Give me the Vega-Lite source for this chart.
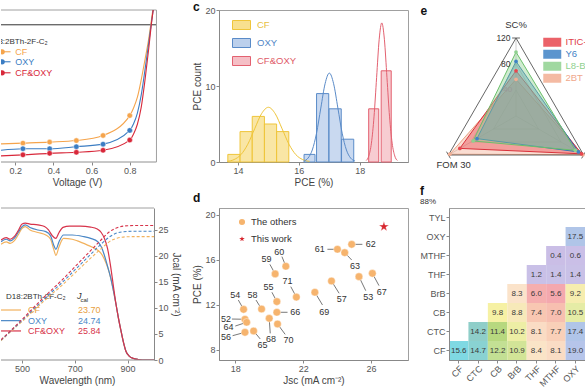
{
"$schema":"https://vega.github.io/schema/vega-lite/v6.json",
"padding":0,
"background":"white",
"config":{
 "font":"Liberation Sans",
 "view":{"stroke":"#a0a0a0","strokeWidth":1},
 "axis":{"labelFontSize":9,"titleFontSize":10,"labelColor":"#555","titleColor":"#444","titleFontWeight":"normal","domainColor":"#888","tickColor":"#888","grid":false,"tickSize":3,"labelPadding":1,"titlePadding":2},
 "legend":{"labelFontSize":9,"labelColor":"#555","titleFontWeight":"normal"},
 "title":{"fontSize":12,"fontWeight":"bold","anchor":"start","color":"#111","offset":2}
},
"datasets":{
 "jv":[
  {"s":"CF","v":0.125,"j":-23.35},{"s":"CF","v":0.24,"j":-23.2,"m":1},{"s":"CF","v":0.38,"j":-23.0,"m":1},{"s":"CF","v":0.52,"j":-22.7,"m":1},{"s":"CF","v":0.66,"j":-21.7,"m":1},{"s":"CF","v":0.8,"j":-17.8,"m":1},{"s":"CF","v":0.82,"j":-16.3},{"s":"CF","v":0.84,"j":-14.2},{"s":"CF","v":0.86,"j":-10.8},{"s":"CF","v":0.88,"j":-6.8},{"s":"CF","v":0.9,"j":-2.6},{"s":"CF","v":0.91,"j":0},{"s":"CF","v":0.925,"j":4},
  {"s":"OXY","v":0.125,"j":-24.6},{"s":"OXY","v":0.24,"j":-24.3,"m":1},{"s":"OXY","v":0.38,"j":-24.3,"m":1},{"s":"OXY","v":0.52,"j":-23.9,"m":1},{"s":"OXY","v":0.66,"j":-23.4,"m":1},{"s":"OXY","v":0.8,"j":-20.7,"m":1},{"s":"OXY","v":0.82,"j":-19.4},{"s":"OXY","v":0.84,"j":-17.3},{"s":"OXY","v":0.86,"j":-13.8},{"s":"OXY","v":0.88,"j":-8.8},{"s":"OXY","v":0.9,"j":-3.4},{"s":"OXY","v":0.912,"j":0},{"s":"OXY","v":0.925,"j":3.5},
  {"s":"CF&OXY","v":0.125,"j":-25.7},{"s":"CF&OXY","v":0.24,"j":-25.5,"m":1},{"s":"CF&OXY","v":0.38,"j":-25.2,"m":1},{"s":"CF&OXY","v":0.52,"j":-25.0,"m":1},{"s":"CF&OXY","v":0.66,"j":-24.6,"m":1},{"s":"CF&OXY","v":0.8,"j":-22.6,"m":1},{"s":"CF&OXY","v":0.82,"j":-21.4},{"s":"CF&OXY","v":0.84,"j":-19.5},{"s":"CF&OXY","v":0.86,"j":-16.2},{"s":"CF&OXY","v":0.88,"j":-10.8},{"s":"CF&OXY","v":0.9,"j":-4.5},{"s":"CF&OXY","v":0.913,"j":0},{"s":"CF&OXY","v":0.925,"j":3.5}
 ],
 "eqe":[
  {"s":"CF","w":420,"e":68.5},{"s":"CF","w":440,"e":70},{"s":"CF","w":455,"e":69},{"s":"CF","w":470,"e":70.5},{"s":"CF","w":485,"e":74},{"s":"CF","w":500,"e":78},{"s":"CF","w":512,"e":79},{"s":"CF","w":530,"e":77},{"s":"CF","w":560,"e":75.5},{"s":"CF","w":590,"e":74},{"s":"CF","w":608,"e":71.5},{"s":"CF","w":620,"e":65.5},{"s":"CF","w":628,"e":62},{"s":"CF","w":640,"e":67},{"s":"CF","w":657,"e":72},{"s":"CF","w":690,"e":71.5},{"s":"CF","w":710,"e":70.5},{"s":"CF","w":748,"e":68},{"s":"CF","w":787,"e":65},{"s":"CF","w":800,"e":63},{"s":"CF","w":811,"e":60},{"s":"CF","w":824,"e":55},{"s":"CF","w":836,"e":48.5},{"s":"CF","w":845,"e":42},{"s":"CF","w":856,"e":33},{"s":"CF","w":865,"e":25},{"s":"CF","w":874,"e":18},{"s":"CF","w":885,"e":10},{"s":"CF","w":894,"e":5},{"s":"CF","w":905,"e":2.5},{"s":"CF","w":920,"e":1},{"s":"CF","w":940,"e":0.3},{"s":"CF","w":970,"e":0},{"s":"CF","w":1000,"e":0},
  {"s":"OXY","w":420,"e":70},{"s":"OXY","w":440,"e":71.5},{"s":"OXY","w":455,"e":70.5},{"s":"OXY","w":470,"e":72},{"s":"OXY","w":485,"e":75.5},{"s":"OXY","w":500,"e":79},{"s":"OXY","w":512,"e":80},{"s":"OXY","w":530,"e":78.5},{"s":"OXY","w":560,"e":77},{"s":"OXY","w":590,"e":76},{"s":"OXY","w":608,"e":73.5},{"s":"OXY","w":620,"e":68},{"s":"OXY","w":628,"e":65.5},{"s":"OXY","w":640,"e":70},{"s":"OXY","w":657,"e":74},{"s":"OXY","w":690,"e":74},{"s":"OXY","w":734,"e":73},{"s":"OXY","w":760,"e":72},{"s":"OXY","w":787,"e":70},{"s":"OXY","w":800,"e":67},{"s":"OXY","w":811,"e":62.5},{"s":"OXY","w":824,"e":55.5},{"s":"OXY","w":836,"e":48.5},{"s":"OXY","w":845,"e":42},{"s":"OXY","w":856,"e":33},{"s":"OXY","w":865,"e":25},{"s":"OXY","w":874,"e":18},{"s":"OXY","w":885,"e":10},{"s":"OXY","w":894,"e":5},{"s":"OXY","w":905,"e":2.5},{"s":"OXY","w":920,"e":1},{"s":"OXY","w":940,"e":0.3},{"s":"OXY","w":970,"e":0},{"s":"OXY","w":1000,"e":0},
  {"s":"CF&OXY","w":420,"e":71},{"s":"CF&OXY","w":440,"e":72.5},{"s":"CF&OXY","w":455,"e":71.5},{"s":"CF&OXY","w":470,"e":73},{"s":"CF&OXY","w":485,"e":76.5},{"s":"CF&OXY","w":500,"e":80.5},{"s":"CF&OXY","w":512,"e":81},{"s":"CF&OXY","w":530,"e":80.5},{"s":"CF&OXY","w":560,"e":80},{"s":"CF&OXY","w":585,"e":79},{"s":"CF&OXY","w":600,"e":77},{"s":"CF&OXY","w":615,"e":73.5},{"s":"CF&OXY","w":628,"e":72},{"s":"CF&OXY","w":640,"e":75.5},{"s":"CF&OXY","w":655,"e":78.5},{"s":"CF&OXY","w":680,"e":79.3},{"s":"CF&OXY","w":720,"e":79.3},{"s":"CF&OXY","w":760,"e":78.7},{"s":"CF&OXY","w":785,"e":77.5},{"s":"CF&OXY","w":800,"e":75.5},{"s":"CF&OXY","w":812,"e":72},{"s":"CF&OXY","w":824,"e":66},{"s":"CF&OXY","w":835,"e":56},{"s":"CF&OXY","w":845,"e":45},{"s":"CF&OXY","w":856,"e":33},{"s":"CF&OXY","w":865,"e":25},{"s":"CF&OXY","w":874,"e":18},{"s":"CF&OXY","w":885,"e":10},{"s":"CF&OXY","w":894,"e":5},{"s":"CF&OXY","w":905,"e":2.5},{"s":"CF&OXY","w":920,"e":1},{"s":"CF&OXY","w":940,"e":0.3},{"s":"CF&OXY","w":970,"e":0},{"s":"CF&OXY","w":1000,"e":0}
 ],
 "jcal":[
  {"s":"CF","w":420,"j":3.7},{"s":"CF","w":460,"j":5.6},{"s":"CF","w":500,"j":7.4},{"s":"CF","w":550,"j":9.8},{"s":"CF","w":600,"j":12.1},{"s":"CF","w":650,"j":14.3},{"s":"CF","w":700,"j":16.7},{"s":"CF","w":750,"j":19.1},{"s":"CF","w":800,"j":21.4},{"s":"CF","w":830,"j":22.7},{"s":"CF","w":860,"j":23.4},{"s":"CF","w":900,"j":23.68},{"s":"CF","w":950,"j":23.7},{"s":"CF","w":1000,"j":23.7},
  {"s":"OXY","w":420,"j":3.8},{"s":"OXY","w":460,"j":5.7},{"s":"OXY","w":500,"j":7.6},{"s":"OXY","w":550,"j":10.1},{"s":"OXY","w":600,"j":12.5},{"s":"OXY","w":650,"j":14.8},{"s":"OXY","w":700,"j":17.3},{"s":"OXY","w":750,"j":19.8},{"s":"OXY","w":800,"j":22.3},{"s":"OXY","w":830,"j":23.6},{"s":"OXY","w":860,"j":24.4},{"s":"OXY","w":900,"j":24.7},{"s":"OXY","w":950,"j":24.74},{"s":"OXY","w":1000,"j":24.74},
  {"s":"CF&OXY","w":420,"j":3.9},{"s":"CF&OXY","w":460,"j":5.8},{"s":"CF&OXY","w":500,"j":7.8},{"s":"CF&OXY","w":550,"j":10.4},{"s":"CF&OXY","w":600,"j":12.9},{"s":"CF&OXY","w":650,"j":15.3},{"s":"CF&OXY","w":700,"j":17.9},{"s":"CF&OXY","w":750,"j":20.5},{"s":"CF&OXY","w":800,"j":23.1},{"s":"CF&OXY","w":830,"j":24.6},{"s":"CF&OXY","w":860,"j":25.4},{"s":"CF&OXY","w":900,"j":25.8},{"s":"CF&OXY","w":950,"j":25.84},{"s":"CF&OXY","w":1000,"j":25.84}
 ],
 "hist":[
  {"s":"CF","x0":13.67,"x1":14.07,"n":1},{"s":"CF","x0":14.07,"x1":14.47,"n":4},{"s":"CF","x0":14.47,"x1":14.87,"n":6},{"s":"CF","x0":14.87,"x1":15.27,"n":5},{"s":"CF","x0":15.27,"x1":15.67,"n":4},
  {"s":"OXY","x0":16.17,"x1":16.53,"n":1},{"s":"OXY","x0":16.58,"x1":16.98,"n":9},{"s":"OXY","x0":16.99,"x1":17.39,"n":7},{"s":"OXY","x0":17.4,"x1":17.8,"n":3},
  {"s":"CF&OXY","x0":18.29,"x1":18.62,"n":7},{"s":"CF&OXY","x0":18.7,"x1":19.03,"n":12}
 ],
 "gauss":[
  {"s":"CF","x":13.65,"y":0.08},{"s":"CF","x":13.875,"y":0.32},{"s":"CF","x":14.1,"y":0.97},{"s":"CF","x":14.325,"y":2.34},{"s":"CF","x":14.55,"y":4.37},{"s":"CF","x":14.775,"y":6.35},{"s":"CF","x":15.0,"y":7.2},{"s":"CF","x":15.225,"y":6.35},{"s":"CF","x":15.45,"y":4.37},{"s":"CF","x":15.675,"y":2.34},{"s":"CF","x":15.9,"y":0.97},{"s":"CF","x":16.125,"y":0.32},{"s":"CF","x":16.35,"y":0.08},
  {"s":"OXY","x":16.16,"y":0.13},{"s":"OXY","x":16.3,"y":0.51},{"s":"OXY","x":16.44,"y":1.58},{"s":"OXY","x":16.58,"y":3.8},{"s":"OXY","x":16.72,"y":7.1},{"s":"OXY","x":16.86,"y":10.3},{"s":"OXY","x":17.0,"y":11.7},{"s":"OXY","x":17.14,"y":10.3},{"s":"OXY","x":17.28,"y":7.1},{"s":"OXY","x":17.42,"y":3.8},{"s":"OXY","x":17.56,"y":1.58},{"s":"OXY","x":17.7,"y":0.51},{"s":"OXY","x":17.84,"y":0.13},
  {"s":"CF&OXY","x":18.21,"y":0.2},{"s":"CF&OXY","x":18.295,"y":0.8},{"s":"CF&OXY","x":18.38,"y":2.48},{"s":"CF&OXY","x":18.465,"y":5.94},{"s":"CF&OXY","x":18.55,"y":11.1},{"s":"CF&OXY","x":18.635,"y":16.15},{"s":"CF&OXY","x":18.72,"y":18.3},{"s":"CF&OXY","x":18.805,"y":16.15},{"s":"CF&OXY","x":18.89,"y":11.1},{"s":"CF&OXY","x":18.975,"y":5.94},{"s":"CF&OXY","x":19.06,"y":2.48},{"s":"CF&OXY","x":19.145,"y":0.8},{"s":"CF&OXY","x":19.23,"y":0.2}
 ],
 "lit":[
  {"ref":"54","jsc":18.49,"pce":11.61,"lx":18.0,"ly":12.89,"ex":18.18,"ey":12.44},
  {"ref":"58","jsc":19.55,"pce":11.64,"lx":19.02,"ly":12.89,"ex":19.22,"ey":12.44},
  {"ref":"55","jsc":20.45,"pce":12.3,"lx":19.96,"ly":13.57,"ex":20.16,"ey":13.13},
  {"ref":"71","jsc":21.6,"pce":12.7,"lx":21.08,"ly":14.13,"ex":21.27,"ey":13.63},
  {"ref":"59","jsc":20.35,"pce":14.76,"lx":19.84,"ly":16.06,"ex":20.04,"ey":15.61},
  {"ref":"60","jsc":20.98,"pce":15.44,"lx":20.59,"ly":16.74,"ex":20.75,"ey":16.3},
  {"ref":"52","jsc":18.57,"pce":10.73,"lx":17.45,"ly":10.78,"ex":17.8,"ey":10.75},
  {"ref":"64","jsc":18.67,"pce":10.46,"lx":17.6,"ly":10.0,"ex":18.0,"ey":10.13},
  {"ref":"56","jsc":18.57,"pce":9.57,"lx":17.45,"ly":9.19,"ex":17.84,"ey":9.27},
  {"ref":"65","jsc":19.08,"pce":9.69,"lx":19.61,"ly":8.44,"ex":19.47,"ey":8.98},
  {"ref":"68","jsc":20.0,"pce":10.81,"lx":20.1,"ly":8.98,"ex":20.06,"ey":9.48},
  {"ref":"66","jsc":20.45,"pce":11.35,"lx":21.53,"ly":11.35,"ex":21.08,"ey":11.35},
  {"ref":"70","jsc":20.49,"pce":10.31,"lx":21.14,"ly":8.89,"ex":20.94,"ey":9.39},
  {"ref":"69","jsc":22.69,"pce":13.13,"lx":23.24,"ly":11.41,"ex":23.14,"ey":12.0},
  {"ref":"57","jsc":23.67,"pce":14.13,"lx":24.27,"ly":12.53,"ex":24.12,"ey":13.04},
  {"ref":"61","jsc":24.02,"pce":16.95,"lx":22.98,"ly":16.95,"ex":23.43,"ey":16.95},
  {"ref":"63","jsc":24.45,"pce":16.65,"lx":25.06,"ly":15.47,"ex":24.86,"ey":16.0},
  {"ref":"62","jsc":24.86,"pce":17.39,"lx":25.98,"ly":17.39,"ex":25.49,"ey":17.39},
  {"ref":"53","jsc":25.29,"pce":14.52,"lx":25.84,"ly":12.74,"ex":25.69,"ey":13.27},
  {"ref":"67","jsc":26.08,"pce":14.81,"lx":26.63,"ly":13.19,"ex":26.47,"ey":13.72}
 ],
 "pts":[
  {"g":"The others","jsc":18.49,"pce":11.61},{"g":"The others","jsc":19.55,"pce":11.64},{"g":"The others","jsc":20.45,"pce":12.3},{"g":"The others","jsc":21.6,"pce":12.7},{"g":"The others","jsc":20.35,"pce":14.76},{"g":"The others","jsc":20.98,"pce":15.44},{"g":"The others","jsc":18.57,"pce":10.73},{"g":"The others","jsc":18.67,"pce":10.46},{"g":"The others","jsc":18.57,"pce":9.57},{"g":"The others","jsc":19.08,"pce":9.69},{"g":"The others","jsc":20.0,"pce":10.81},{"g":"The others","jsc":20.45,"pce":11.35},{"g":"The others","jsc":20.49,"pce":10.31},{"g":"The others","jsc":22.69,"pce":13.13},{"g":"The others","jsc":23.67,"pce":14.13},{"g":"The others","jsc":24.02,"pce":16.95},{"g":"The others","jsc":24.45,"pce":16.65},{"g":"The others","jsc":24.86,"pce":17.39},{"g":"The others","jsc":25.29,"pce":14.52},{"g":"The others","jsc":26.08,"pce":14.81},
  {"g":"This work","jsc":26.76,"pce":18.96}
 ],
 "grid":[
  {"g":"outer","o":0,"x":0,"y":1},{"g":"outer","o":1,"x":-0.866,"y":-0.5},{"g":"outer","o":2,"x":0.866,"y":-0.5},{"g":"outer","o":3,"x":0,"y":1},
  {"g":"t1","o":0,"x":-0.05,"y":1},{"g":"t1","o":1,"x":0.05,"y":1},
  {"g":"t2","o":0,"x":-0.891,"y":-0.457},{"g":"t2","o":1,"x":-0.841,"y":-0.543},
  {"g":"t3","o":0,"x":0.841,"y":-0.543},{"g":"t3","o":1,"x":0.891,"y":-0.457},
  {"g":"in2","o":0,"x":0,"y":0.667},{"g":"in2","o":1,"x":-0.577,"y":-0.333},{"g":"in2","o":2,"x":0.577,"y":-0.333},{"g":"in2","o":3,"x":0,"y":0.667},
  {"g":"in1","o":0,"x":0,"y":0.333},{"g":"in1","o":1,"x":-0.289,"y":-0.167},{"g":"in1","o":2,"x":0.289,"y":-0.167},{"g":"in1","o":3,"x":0,"y":0.333},
  {"g":"s1","o":0,"x":0,"y":0},{"g":"s1","o":1,"x":0,"y":1},
  {"g":"s2","o":0,"x":0,"y":0},{"g":"s2","o":1,"x":-0.866,"y":-0.5},
  {"g":"s3","o":0,"x":0,"y":0},{"g":"s3","o":1,"x":0.866,"y":-0.5}
 ],
 "radar":[
  {"s":"2BTh-2F-C₂","o":0,"x":0,"y":0.47},{"s":"2BTh-2F-C₂","o":1,"x":-0.849,"y":-0.49},{"s":"2BTh-2F-C₂","o":2,"x":0.857,"y":-0.495},{"s":"2BTh-2F-C₂","o":3,"x":0,"y":0.47},
  {"s":"ITIC-4F","o":0,"x":0,"y":0.58},{"s":"ITIC-4F","o":1,"x":-0.72,"y":-0.415},{"s":"ITIC-4F","o":2,"x":0.84,"y":-0.485},{"s":"ITIC-4F","o":3,"x":0,"y":0.58},
  {"s":"Y6","o":0,"x":0,"y":0.7},{"s":"Y6","o":1,"x":-0.5,"y":-0.29},{"s":"Y6","o":2,"x":0.8,"y":-0.46},{"s":"Y6","o":3,"x":0,"y":0.7},
  {"s":"L8-BO","o":0,"x":0,"y":0.82},{"s":"L8-BO","o":1,"x":-0.55,"y":-0.32},{"s":"L8-BO","o":2,"x":0.76,"y":-0.44},{"s":"L8-BO","o":3,"x":0,"y":0.82}
 ],
 "heat":[
  {"r":"CF","c":"CF","v":15.6},{"r":"CF","c":"CTC","v":14.7},{"r":"CF","c":"CB","v":12.2},{"r":"CF","c":"BrB","v":10.9},{"r":"CF","c":"THF","v":8.4},{"r":"CF","c":"MTHF","v":8.1},{"r":"CF","c":"OXY","v":19.0},
  {"r":"CTC","c":"CTC","v":14.2},{"r":"CTC","c":"CB","v":11.4},{"r":"CTC","c":"BrB","v":10.2},{"r":"CTC","c":"THF","v":8.1},{"r":"CTC","c":"MTHF","v":7.7},{"r":"CTC","c":"OXY","v":17.4},
  {"r":"CB","c":"CB","v":9.8},{"r":"CB","c":"BrB","v":8.8},{"r":"CB","c":"THF","v":7.4},{"r":"CB","c":"MTHF","v":7.0},{"r":"CB","c":"OXY","v":10.5},
  {"r":"BrB","c":"BrB","v":8.3},{"r":"BrB","c":"THF","v":6.0},{"r":"BrB","c":"MTHF","v":5.6},{"r":"BrB","c":"OXY","v":9.2},
  {"r":"THF","c":"THF","v":1.2},{"r":"THF","c":"MTHF","v":1.4},{"r":"THF","c":"OXY","v":1.4},
  {"r":"MTHF","c":"MTHF","v":0.4},{"r":"MTHF","c":"OXY","v":0.6},
  {"r":"OXY","c":"OXY","v":17.5}
 ]
},
"columns":3,
"spacing":{"row":38,"column":41},
"bounds":"flush",
"resolve":{"scale":{"color":"independent","fill":"independent","stroke":"independent","shape":"independent"},"legend":{"color":"independent","fill":"independent","stroke":"independent","shape":"independent"}},
"concat":[
  {"width":177,"height":152,
   "view":{"stroke":null},
   "layer":[
    {"data":{"values":[{}]},"mark":{"type":"rule","color":"#333","strokeWidth":1},"encoding":{"x":{"datum":0.125,"type":"quantitative","scale":{"domain":[0.125,1.0529],"nice":false,"zero":false},"axis":{"values":[0.2,0.4,0.6,0.8],"format":".1f","title":"Voltage (V)","domain":false,"titleX":76,"titleAnchor":"middle"}},"x2":{"datum":0.94},"y":{"datum":0,"type":"quantitative","scale":{"domain":[-26.9,2.9],"nice":false,"zero":false},"axis":null}}},
    {"data":{"values":[{}]},"mark":{"type":"rule","color":"#a0a0a0","strokeWidth":1},"encoding":{"x":{"datum":0.125},"x2":{"datum":0.94},"y":{"datum":2.9}}},
    {"data":{"values":[{}]},"mark":{"type":"rule","color":"#909090","strokeWidth":1},"encoding":{"x":{"datum":0.125},"x2":{"datum":0.94},"y":{"datum":-26.9}}},
    {"data":{"values":[{}]},"mark":{"type":"rule","color":"#a0a0a0","strokeWidth":1},"encoding":{"x":{"datum":0.94},"y":{"datum":-26.9},"y2":{"datum":2.9}}},
    {"data":{"name":"jv"},"mark":{"type":"line","interpolate":"monotone","strokeWidth":1.1,"clip":true},"encoding":{"x":{"field":"v","type":"quantitative"},"y":{"field":"j","type":"quantitative"},"color":{"field":"s","type":"nominal","scale":{"domain":["CF","OXY","CF&OXY"],"range":["#f5a44c","#3b7dc3","#d8283a"]},"legend":null}}},
    {"data":{"name":"jv"},"transform":[{"filter":"datum.m"}],"mark":{"type":"point","filled":true,"size":30,"opacity":1,"stroke":"#ffffff","strokeWidth":0.5,"clip":true},"encoding":{"x":{"field":"v","type":"quantitative"},"y":{"field":"j","type":"quantitative"},"color":{"field":"s","type":"nominal","legend":null}}},
    {"data":{"values":[{}]},"mark":{"type":"text","align":"right","baseline":"middle","fontSize":8,"color":"#333","clip":true},"encoding":{"x":{"datum":0.37},"y":{"datum":-3.33},"text":{"value":"D18:2BTh-2F-C₂"}}},
    {"data":{"values":[{}]},"mark":{"type":"rule","color":"#f5a44c","strokeWidth":1.1,"clip":true},"encoding":{"x":{"datum":0.09},"x2":{"datum":0.175},"y":{"datum":-5.29}}},
    {"data":{"values":[{}]},"mark":{"type":"rule","color":"#3b7dc3","strokeWidth":1.1,"clip":true},"encoding":{"x":{"datum":0.09},"x2":{"datum":0.175},"y":{"datum":-7.25}}},
    {"data":{"values":[{}]},"mark":{"type":"rule","color":"#d8283a","strokeWidth":1.1,"clip":true},"encoding":{"x":{"datum":0.09},"x2":{"datum":0.175},"y":{"datum":-9.41}}},
    {"data":{"values":[{}]},"mark":{"type":"point","filled":true,"size":28,"opacity":1,"color":"#f5a44c","clip":true},"encoding":{"x":{"datum":0.131},"y":{"datum":-5.29}}},
    {"data":{"values":[{}]},"mark":{"type":"point","filled":true,"size":28,"opacity":1,"color":"#3b7dc3","clip":true},"encoding":{"x":{"datum":0.131},"y":{"datum":-7.25}}},
    {"data":{"values":[{}]},"mark":{"type":"point","filled":true,"size":28,"opacity":1,"color":"#d8283a","clip":true},"encoding":{"x":{"datum":0.131},"y":{"datum":-9.41}}},
    {"data":{"values":[{}]},"mark":{"type":"text","align":"left","baseline":"middle","fontSize":9,"color":"#f5a44c"},"encoding":{"x":{"datum":0.2},"y":{"datum":-5.29},"text":{"value":"CF"}}},
    {"data":{"values":[{}]},"mark":{"type":"text","align":"left","baseline":"middle","fontSize":9,"color":"#3b7dc3"},"encoding":{"x":{"datum":0.2},"y":{"datum":-7.25},"text":{"value":"OXY"}}},
    {"data":{"values":[{}]},"mark":{"type":"text","align":"left","baseline":"middle","fontSize":9,"color":"#d8283a"},"encoding":{"x":{"datum":0.2},"y":{"datum":-9.41},"text":{"value":"CF&OXY"}}}
   ]
  },
  {"width":189,"height":152,
   "title":{"text":"c","offset":-8},
   "layer":[
    {"data":{"name":"hist"},"mark":{"type":"bar","strokeWidth":1,"fillOpacity":0.8},"encoding":{"x":{"field":"x0","type":"quantitative","scale":{"domain":[13.38,19.58],"nice":false,"zero":false},"axis":{"values":[14,15,16,17,18,19],"title":"PCE (%)"}},"x2":{"field":"x1"},"y":{"field":"n","type":"quantitative","scale":{"domain":[0,20],"nice":false},"axis":{"values":[0,5,10,15,20],"title":"PCE count"}},"y2":{"datum":0},
      "fill":{"field":"s","type":"nominal","scale":{"domain":["CF","OXY","CF&OXY"],"range":["#f8e08e","#bcd0ec","#f5bfc6"]},"legend":{"orient":"none","legendX":17.5,"legendY":10,"title":null,"symbolType":"M-2,-1H2V1H-2Z","symbolSize":81,"symbolStrokeWidth":1,"labelOffset":10.5,"rowPadding":4,"padding":0,"labelFontSize":9.5,"encode":{"labels":{"update":{"fill":{"signal":"datum.value==='CF'?'#e8c040':datum.value==='OXY'?'#4f86c6':'#e05a68'"}}}}}},
      "stroke":{"field":"s","type":"nominal","scale":{"domain":["CF","OXY","CF&OXY"],"range":["#efc53a","#5a8bc8","#e36170"]},"legend":{"orient":"none","legendX":17.5,"legendY":10,"title":null,"symbolType":"M-2,-1H2V1H-2Z","symbolSize":81,"symbolStrokeWidth":1,"labelOffset":10.5,"rowPadding":4,"padding":0,"labelFontSize":9.5,"encode":{"labels":{"update":{"fill":{"signal":"datum.value==='CF'?'#e8c040':datum.value==='OXY'?'#4f86c6':'#e05a68'"}}}}}}}},
    {"data":{"name":"gauss"},"mark":{"type":"line","interpolate":"monotone","strokeWidth":1},"encoding":{"x":{"field":"x","type":"quantitative"},"y":{"field":"y","type":"quantitative"},"stroke":{"field":"s","type":"nominal","legend":null}}}
   ]
  },
  {"width":136,"height":160,
   "view":{"stroke":null},
   "title":{"text":"e","offset":-8,"dx":-16},
   "layer":[
    {"data":{"name":"grid"},"transform":[{"filter":"datum.g==='in1'||datum.g==='in2'||datum.g==='s1'||datum.g==='s2'||datum.g==='s3'"}],"mark":{"type":"line","strokeWidth":0.6,"color":"#b0b0b0"},"encoding":{"x":{"field":"x","type":"quantitative","scale":{"domain":[-0.859,0.884],"nice":false,"zero":false},"axis":null},"y":{"field":"y","type":"quantitative","scale":{"domain":[-0.692,1.359],"nice":false,"zero":false},"axis":null},"detail":{"field":"g","type":"nominal"},"order":{"field":"o","type":"quantitative"}}},
    {"data":{"name":"radar"},"mark":{"type":"line","strokeWidth":1,"fillOpacity":0.42},"encoding":{"x":{"field":"x","type":"quantitative"},"y":{"field":"y","type":"quantitative"},"order":{"field":"o","type":"quantitative"},
      "fill":{"field":"s","type":"nominal","scale":{"domain":["ITIC-4F","Y6","L8-BO","2BTh-2F-C₂"],"range":["#e8474f","#3f83c6","#8fd18f","#f2ae93"]},"legend":{"orient":"none","legendX":98.5,"legendY":27.5,"title":null,"symbolType":"M-2,-1H2V1H-2Z","symbolSize":81,"symbolStrokeWidth":0,"labelOffset":8.5,"rowPadding":1,"padding":0,"labelFontSize":9.5,"labelLimit":22,"encode":{"symbols":{"update":{"fillOpacity":{"value":0.85},"strokeWidth":{"value":0}}},"labels":{"update":{"ellipsis":{"value":"\u200b"},"fill":{"signal":"datum.value==='ITIC-4F'?'#e0404a':datum.value==='Y6'?'#3f83c6':datum.value==='L8-BO'?'#8fd18f':'#f0a88c'"}}}}}},
      "stroke":{"field":"s","type":"nominal","scale":{"domain":["ITIC-4F","Y6","L8-BO","2BTh-2F-C₂"],"range":["#d9303a","#2f73b6","#6cbf6c","#e8a080"]},"legend":{"orient":"none","legendX":98.5,"legendY":27.5,"title":null,"symbolType":"M-2,-1H2V1H-2Z","symbolSize":81,"symbolStrokeWidth":0,"labelOffset":8.5,"rowPadding":1,"padding":0,"labelFontSize":9.5,"labelLimit":22,"encode":{"symbols":{"update":{"fillOpacity":{"value":0.85},"strokeWidth":{"value":0}}},"labels":{"update":{"ellipsis":{"value":"\u200b"},"fill":{"signal":"datum.value==='ITIC-4F'?'#e0404a':datum.value==='Y6'?'#3f83c6':datum.value==='L8-BO'?'#8fd18f':'#f0a88c'"}}}}}}}},
    {"data":{"name":"grid"},"transform":[{"filter":"datum.g==='outer'||datum.g==='t1'||datum.g==='t2'||datum.g==='t3'"}],"mark":{"type":"line","strokeWidth":0.9,"color":"#555"},"encoding":{"x":{"field":"x","type":"quantitative"},"y":{"field":"y","type":"quantitative"},"detail":{"field":"g","type":"nominal"},"order":{"field":"o","type":"quantitative"}}},
    {"data":{"name":"radar"},"transform":[{"filter":"datum.o<3"}],"mark":{"type":"point","filled":true,"size":14,"opacity":1},"encoding":{"x":{"field":"x","type":"quantitative"},"y":{"field":"y","type":"quantitative"},"fill":{"field":"s","type":"nominal","legend":null}}},
    {"data":{"values":[{}]},"mark":{"type":"text","align":"center","baseline":"middle","fontSize":9.5,"color":"#333"},"encoding":{"x":{"datum":0},"y":{"datum":1.17},"text":{"value":"SC%"}}},
    {"data":{"values":[{}]},"mark":{"type":"text","align":"right","baseline":"middle","fontSize":8.5,"color":"#333"},"encoding":{"x":{"datum":-0.07},"y":{"datum":1.0},"text":{"value":"120"}}},
    {"data":{"values":[{}]},"mark":{"type":"text","align":"right","baseline":"middle","fontSize":8.5,"color":"#333"},"encoding":{"x":{"datum":-0.07},"y":{"datum":0.667},"text":{"value":"80"}}},
    {"data":{"values":[{}]},"mark":{"type":"text","align":"right","baseline":"middle","fontSize":8,"color":"#999"},"encoding":{"x":{"datum":-0.05},"y":{"datum":0.333},"text":{"value":"40"}}},
    {"data":{"values":[{}]},"mark":{"type":"text","align":"left","baseline":"middle","fontSize":9.5,"color":"#333"},"encoding":{"x":{"datum":-1.02},"y":{"datum":-0.63},"text":{"value":"FOM 30"}}}
   ]
  },
  {"width":177,"height":152,
   "view":{"stroke":null},
   "layer":[
    {"layer":[
     {"data":{"name":"eqe"},"mark":{"type":"line","interpolate":"monotone","strokeWidth":1.2,"clip":true},"encoding":{"x":{"field":"w","type":"quantitative","scale":{"domain":[420,1091],"nice":false,"zero":false},"axis":{"values":[500,600,700,800,900,1000],"labelExpr":"format(datum.value, ',')","labelOverlap":false,"labelFlush":false,"labelBound":false,"title":"Wavelength (nm)","domain":false,"titleAnchor":"middle","titleX":76}},"y":{"field":"e","type":"quantitative","scale":{"domain":[0,90],"nice":false},"axis":null},"color":{"field":"s","type":"nominal","scale":{"domain":["CF","OXY","CF&OXY"],"range":["#f2b25e","#4a87c6","#d7334a"]},"legend":null}}},
     {"data":{"values":[{}]},"mark":{"type":"rule","color":"#a0a0a0","strokeWidth":1},"encoding":{"x":{"datum":420},"x2":{"datum":1000},"y":{"datum":90}}},
     {"data":{"values":[{}]},"mark":{"type":"rule","color":"#909090","strokeWidth":1},"encoding":{"x":{"datum":420},"x2":{"datum":1000},"y":{"datum":0}}},
     {"data":{"values":[{}]},"mark":{"type":"text","align":"left","baseline":"middle","fontSize":8,"color":"#333","clip":true},"encoding":{"x":{"datum":439},"y":{"datum":37.3},"text":{"value":"D18:2BTh-2F-C₂"}}},
     {"data":{"values":[{}]},"mark":{"type":"text","align":"left","baseline":"middle","fontSize":9,"fontStyle":"italic","color":"#333"},"encoding":{"x":{"datum":708},"y":{"datum":38.0},"text":{"value":"J"}}},
     {"data":{"values":[{}]},"mark":{"type":"text","align":"left","baseline":"middle","fontSize":6,"color":"#333"},"encoding":{"x":{"datum":721},"y":{"datum":35.6},"text":{"value":"cal"}}},
     {"data":{"values":[{}]},"mark":{"type":"rule","color":"#f2b25e","strokeWidth":1.2,"clip":true},"encoding":{"x":{"datum":415},"x2":{"datum":496},"y":{"datum":29.6}}},
     {"data":{"values":[{}]},"mark":{"type":"rule","color":"#4a87c6","strokeWidth":1.2,"clip":true},"encoding":{"x":{"datum":415},"x2":{"datum":496},"y":{"datum":23.3}}},
     {"data":{"values":[{}]},"mark":{"type":"rule","color":"#d7334a","strokeWidth":1.2,"clip":true},"encoding":{"x":{"datum":415},"x2":{"datum":496},"y":{"datum":17.2}}},
     {"data":{"values":[{}]},"mark":{"type":"text","align":"left","baseline":"middle","fontSize":9,"color":"#e8a040"},"encoding":{"x":{"datum":522},"y":{"datum":29.6},"text":{"value":"CF"}}},
     {"data":{"values":[{}]},"mark":{"type":"text","align":"left","baseline":"middle","fontSize":9,"color":"#4a87c6"},"encoding":{"x":{"datum":522},"y":{"datum":23.3},"text":{"value":"OXY"}}},
     {"data":{"values":[{}]},"mark":{"type":"text","align":"left","baseline":"middle","fontSize":9,"color":"#d7334a"},"encoding":{"x":{"datum":522},"y":{"datum":17.2},"text":{"value":"CF&OXY"}}},
     {"data":{"values":[{}]},"mark":{"type":"text","align":"left","baseline":"middle","fontSize":9,"color":"#e8a040"},"encoding":{"x":{"datum":712},"y":{"datum":29.6},"text":{"value":"23.70"}}},
     {"data":{"values":[{}]},"mark":{"type":"text","align":"left","baseline":"middle","fontSize":9,"color":"#4a87c6"},"encoding":{"x":{"datum":712},"y":{"datum":23.3},"text":{"value":"24.74"}}},
     {"data":{"values":[{}]},"mark":{"type":"text","align":"left","baseline":"middle","fontSize":9,"color":"#d7334a"},"encoding":{"x":{"datum":712},"y":{"datum":17.2},"text":{"value":"25.84"}}}
    ]},
    {"data":{"name":"jcal"},"mark":{"type":"line","interpolate":"monotone","strokeWidth":1.1,"strokeDash":[3,2],"clip":true},"encoding":{"x":{"field":"w","type":"quantitative","axis":{"values":[500,600,700,800,900,1000],"labelExpr":"format(datum.value, ',')","labelOverlap":false,"labelFlush":false,"labelBound":false,"title":"Wavelength (nm)","domain":false,"titleAnchor":"middle","titleX":76}},"y":{"field":"j","type":"quantitative","scale":{"domain":[0,29.2],"nice":false},"axis":{"orient":"right","offset":-24,"values":[0,5,10,15,20,25],"title":"Jcal (mA cm⁻²)"}},"color":{"field":"s","type":"nominal","legend":null}}}
   ],
   "resolve":{"scale":{"y":"independent"}}
  },
  {"width":189,"height":152,
   "title":{"text":"d","offset":3},
   "layer":[
    {"data":{"name":"lit"},"mark":{"type":"rule","color":"#555","strokeWidth":0.8},"encoding":{"x":{"field":"jsc","type":"quantitative","scale":{"domain":[17.04,28.18],"nice":false,"zero":false},"axis":{"values":[18,20,22,24,26,28],"title":"Jsc (mA cm⁻²)"}},"y":{"field":"pce","type":"quantitative","scale":{"domain":[7.11,20.62],"nice":false,"zero":false},"axis":{"values":[8,10,12,14,16,18,20],"title":"PCE (%)"}},"x2":{"field":"ex"},"y2":{"field":"ey"}}},
    {"data":{"name":"pts"},"mark":{"type":"point","filled":true,"opacity":1,"size":58,"stroke":"#ffffff","strokeWidth":0.4},"encoding":{"x":{"field":"jsc","type":"quantitative"},"y":{"field":"pce","type":"quantitative"},
      "shape":{"field":"g","type":"nominal","scale":{"domain":["The others","This work"],"range":["circle","M0,-1.4L0.314,-0.433L1.332,-0.433L0.509,0.165L0.823,1.133L0,0.535L-0.823,1.133L-0.509,0.165L-1.332,-0.433L-0.314,-0.433Z"]},"legend":{"orient":"none","legendX":18,"legendY":9,"title":null,"labelFontSize":9.5,"labelColor":"#333","symbolSize":58,"rowPadding":1,"padding":0}},
      "color":{"field":"g","type":"nominal","scale":{"domain":["The others","This work"],"range":["#f6b46e","#d7262e"]},"legend":{"orient":"none","legendX":18,"legendY":9,"title":null,"labelFontSize":9.5,"labelColor":"#333","symbolSize":58,"rowPadding":1,"padding":0}}}},
    {"data":{"name":"lit"},"mark":{"type":"text","fontSize":9,"color":"#333","baseline":"middle"},"encoding":{"x":{"field":"lx","type":"quantitative"},"y":{"field":"ly","type":"quantitative"},"text":{"field":"ref","type":"nominal"}}}
   ]
  },
  {"width":136,"height":152,
   "title":{"text":"f","offset":1,"subtitle":"\u00a0\u00a0\u00a088%","subtitleFontSize":8,"subtitleColor":"#333","subtitlePadding":0},
   "data":{"name":"heat"},
   "layer":[
    {"mark":{"type":"rect"},"encoding":{"x":{"field":"c","type":"nominal","scale":{"domain":["CF","CTC","CB","BrB","THF","MTHF","OXY"],"paddingInner":0,"paddingOuter":0},"axis":{"title":null,"labelAngle":-45,"labelFontSize":9}},"y":{"field":"r","type":"nominal","scale":{"domain":["TYL","OXY","MTHF","THF","BrB","CB","CTC","CF"],"paddingInner":0,"paddingOuter":0},"axis":{"title":null,"labelFontSize":9}},"fill":{"field":"v","type":"quantitative","scale":{"type":"linear","interpolate":"rgb","domain":[0,2,5.5,6.5,7.5,8.3,9.0,9.8,10.6,11.4,12.5,14.2,15.6,17.4,19],"range":["#cbbde6","#c8c2e8","#f4a7ae","#f5b4ae","#f8c9b2","#fbe3ca","#f6ebb2","#f6f1a4","#e3eba6","#b7d87f","#c8e39c","#8fcec9","#7fd9e3","#b0c5e8","#b6c5ea"]},"legend":null}}},
    {"mark":{"type":"text","fontSize":8,"color":"#3a3a3a"},"encoding":{"x":{"field":"c","type":"nominal"},"y":{"field":"r","type":"nominal"},"text":{"field":"v","type":"quantitative","format":".1f"}}}
   ]
  }
]
}
